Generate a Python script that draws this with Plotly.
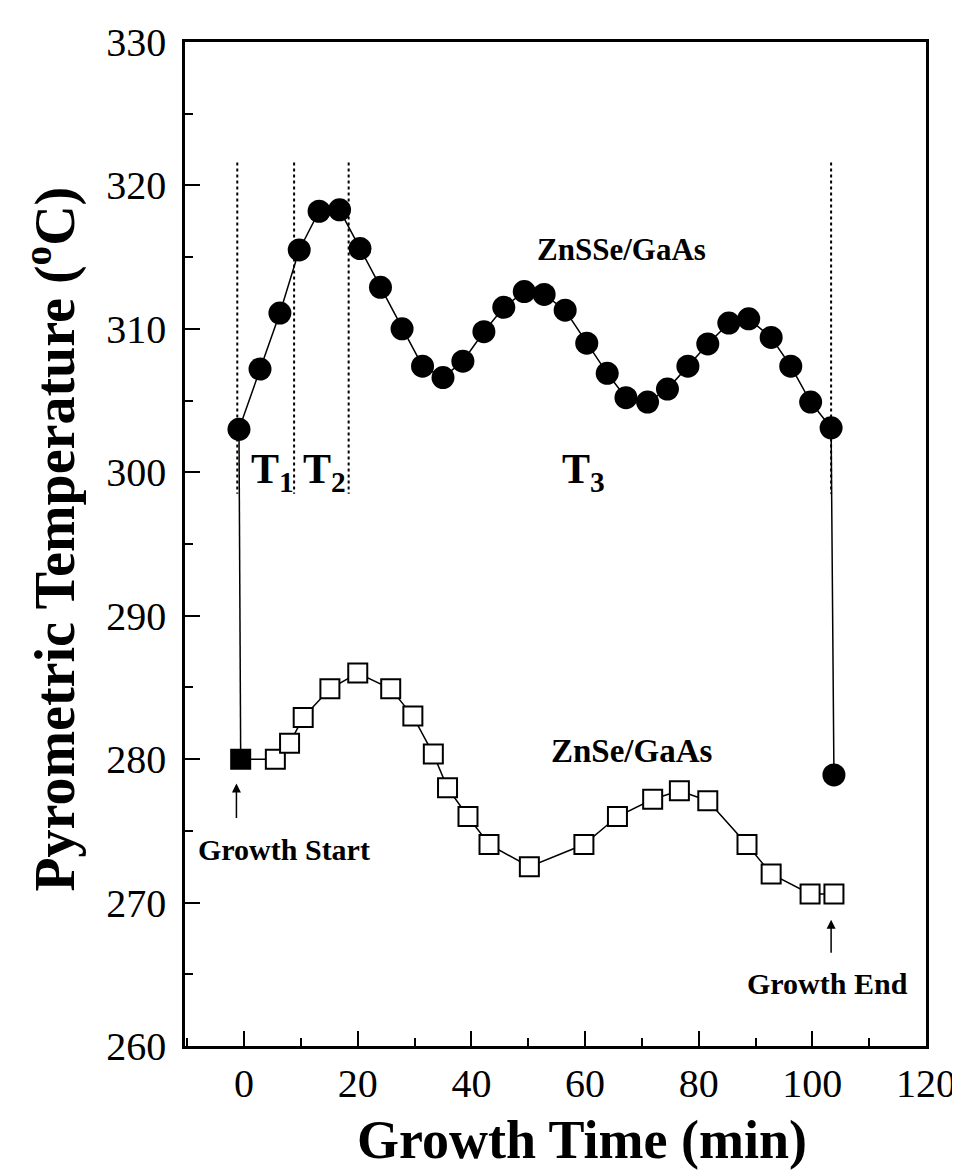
import plotly.graph_objects as go

# ZnSSe/GaAs (filled circles)
znsse_time = [-0.9, 2.8, 6.3, 9.7, 13.2, 16.8, 20.4, 24.0, 27.8, 31.4, 35.0, 38.5, 42.2,
              45.7, 49.3, 52.8, 56.5, 60.3, 63.9, 67.2, 71.0, 74.5, 78.1, 81.6, 85.3,
              88.8, 92.75, 96.2, 99.7, 103.3, 103.8]
znsse_temp = [303.0, 307.2, 311.1, 315.5, 318.2, 318.3, 315.6, 312.9, 310.0, 307.4, 306.6,
              307.75, 309.8, 311.5, 312.6, 312.4, 311.3, 309.0, 306.9, 305.2, 304.9, 305.8,
              307.4, 308.95, 310.4, 310.7, 309.4, 307.4, 304.9, 303.1, 278.9]

# ZnSe/GaAs (open squares, first one filled = growth start)
znse_time = [-0.6, 5.5, 8.0, 10.4, 15.1, 20.0, 25.8, 29.7, 33.3, 35.8, 39.4, 43.1, 50.2,
             59.8, 65.7, 71.9, 76.6, 81.6, 88.5, 92.75, 99.6, 103.8]
znse_temp = [280.0, 280.0, 281.1, 282.9, 284.9, 286.0, 284.9, 283.0, 280.35, 278.0, 276.0,
             274.05, 272.5, 274.05, 276.0, 277.2, 277.8, 277.1, 274.05, 272.0, 270.6, 270.6]

# stage boundaries (dotted lines)
boundary_times = [-1.2, 8.8, 18.4, 103.3]
boundary_top = 321.6
boundary_bottom = 298.5

x_ticks = [0, 20, 40, 60, 80, 100, 120]
y_ticks = [260, 270, 280, 290, 300, 310, 320, 330]

FONT = "Liberation Serif"

fig = go.Figure()

# link between the two starting points
fig.add_trace(go.Scatter(
    x=[znsse_time[0], znse_time[0]], y=[znsse_temp[0], znse_temp[0]],
    mode="lines", line=dict(color="black", width=1.5), showlegend=False, hoverinfo="skip"))

# dotted stage boundaries
for bt in boundary_times:
    fig.add_trace(go.Scatter(
        x=[bt, bt], y=[boundary_top, boundary_bottom], mode="lines",
        line=dict(color="black", width=2, dash="dot"), showlegend=False, hoverinfo="skip"))

fig.add_trace(go.Scatter(
    x=znse_time, y=znse_temp, mode="lines+markers",
    line=dict(color="black", width=1.5),
    marker=dict(symbol="square", size=19,
                color=["black"] + ["white"] * (len(znse_time) - 1),
                line=dict(color="black", width=2)),
    showlegend=False))

fig.add_trace(go.Scatter(
    x=znsse_time, y=znsse_temp, mode="lines+markers",
    line=dict(color="black", width=1.5),
    marker=dict(symbol="circle", size=23, color="black", line=dict(width=0)),
    showlegend=False))

ann = []
def txt(x, y, s, size, **kw):
    d = dict(x=x, y=y, xref="x", yref="y", text=s, showarrow=False,
             xanchor="center", yanchor="middle",
             font=dict(family=FONT, size=size, color="black", weight="bold"))
    d.update(kw)
    ann.append(d)

txt(66.5, 315.5, "ZnSSe/GaAs", 31)
txt(68.3, 280.6, "ZnSe/GaAs", 33)
txt(0.9, 300.0, "T<sub>1</sub>", 42, xanchor="left")
txt(10.0, 300.0, "T<sub>2</sub>", 42, xanchor="left")
txt(55.6, 300.0, "T<sub>3</sub>", 42, xanchor="left")
txt(7.1, 273.7, "Growth Start", 30)
txt(102.6, 264.35, "Growth End", 30)

for xh, yh, yt in [(-1.35, 278.3, 275.8), (103.3, 268.8, 266.4)]:
    ann.append(dict(x=xh, y=yh, ax=xh, ay=yt, xref="x", yref="y", axref="x", ayref="y",
                    showarrow=True, arrowhead=2, arrowsize=1.2, arrowwidth=1.5,
                    arrowcolor="black", text=""))

ann.append(dict(x=0.536, y=-0.094, xref="paper", yref="paper", showarrow=False,
                xanchor="center", yanchor="middle",
                text="Growth Time (min)",
                font=dict(family=FONT, size=54, color="black", weight="bold")))
ann.append(dict(x=-0.18, y=0.505, xref="paper", yref="paper", showarrow=False,
                xanchor="center", yanchor="middle",
                textangle=-90, text="Pyrometric Temperature (<sup>o</sup>C)",
                font=dict(family=FONT, size=56, color="black", weight="bold")))

fig.update_layout(
    width=960, height=1173,
    margin=dict(l=177, r=37, t=27, b=135),
    plot_bgcolor="white", paper_bgcolor="white",
    annotations=ann,
    font=dict(family=FONT, color="black"),
)
fig.update_xaxes(range=[-10.4, 120], tickvals=x_ticks, ticks="inside", ticklen=15,
                 tickwidth=2, tickcolor="black", showline=True, linewidth=2.5,
                 linecolor="black", mirror=True, showgrid=False, zeroline=False,
                 tickfont=dict(family=FONT, size=40, color="black"),
                 minor=dict(dtick=10, tick0=0, ticks="inside", ticklen=8, tickwidth=2,
                            tickcolor="black", showgrid=False))
fig.update_yaxes(range=[260, 330], tickvals=y_ticks, ticks="inside", ticklen=15,
                 tickwidth=2, tickcolor="black", showline=True, linewidth=2.5,
                 linecolor="black", mirror=True, showgrid=False, zeroline=False,
                 ticklabelstandoff=8,
                 tickfont=dict(family=FONT, size=40, color="black"),
                 minor=dict(dtick=5, tick0=260, ticks="inside", ticklen=8, tickwidth=2,
                            tickcolor="black", showgrid=False))

fig.write_html("out.html")
